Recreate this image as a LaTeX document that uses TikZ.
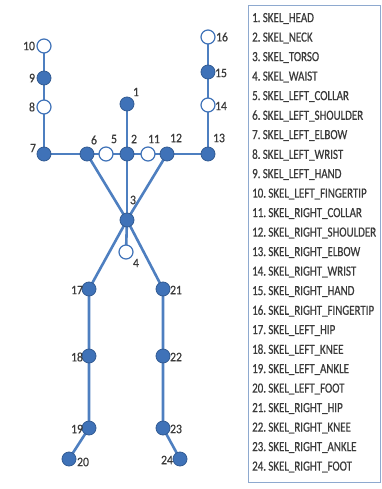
\documentclass[tikz,border=0pt]{standalone}
\usepackage{fontspec}
\setmainfont{Carlito}
\newfontfamily\listfont[FakeStretch=0.78,FakeBold=0.6]{Carlito}
\newfontfamily\numfont[FakeStretch=0.9,FakeBold=0.6]{Carlito}
\definecolor{jblue}{HTML}{3F72B8}
\definecolor{jedge}{HTML}{4E7FC0}
\definecolor{jtext}{HTML}{3A3A3A}
\definecolor{jbox}{HTML}{8EA9CF}
\tikzset{
  bone/.style={draw=jedge, line width=2.6pt},
  full/.style={circle, draw=jblue!80!black, line width=0.8pt, fill=jblue, minimum size=14pt, inner sep=0pt},
  hollow/.style={circle, draw=jblue, line width=1.2pt, fill=white, minimum size=14pt, inner sep=0pt},
  num/.style={text=jtext, font=\numfont\fontsize{13}{14}\selectfont, inner sep=0pt},
  item/.style={text=jtext, font=\listfont\fontsize{14}{15}\selectfont, anchor=west, inner sep=0pt},
}
\begin{document}
\begin{tikzpicture}[x=1pt,y=-1pt]
\useasboundingbox (0,0) rectangle (382,489);
% joints
\coordinate (p1) at (127,104);
\coordinate (p2) at (127,154);
\coordinate (p3) at (127,220);
\coordinate (p4) at (126,252);
\coordinate (p5) at (106,154);
\coordinate (p6) at (87,154);
\coordinate (p7) at (44,154);
\coordinate (p8) at (44,107);
\coordinate (p9) at (44,78);
\coordinate (p10) at (44,46);
\coordinate (p11) at (148,154);
\coordinate (p12) at (167,154);
\coordinate (p13) at (208,154);
\coordinate (p14) at (208,105);
\coordinate (p15) at (208,72);
\coordinate (p16) at (208,37);
\coordinate (p17) at (89,289);
\coordinate (p18) at (89,356);
\coordinate (p19) at (89,428);
\coordinate (p20) at (69,459);
\coordinate (p21) at (163,289);
\coordinate (p22) at (163,356);
\coordinate (p23) at (163,428);
\coordinate (p24) at (180,459);
% bones
\draw[bone] (p10) -- (p9) -- (p8) -- (p7) -- (p13) -- (p14) -- (p15) -- (p16);
\draw[bone] (p1) -- (p2) -- (p3);
\draw[bone] (p6) -- (p3) -- (p12);
\draw[bone] (p3) -- (p4);
\draw[bone] (p20) -- (p19) -- (p18) -- (p17) -- (p3) -- (p21) -- (p22) -- (p23) -- (p24);
% nodes
\foreach \i in {1,2,3,6,7,9,12,13,15,17,18,19,20,21,22,23,24}
  \node[full] (n\i) at (p\i) {};
\foreach \i in {4,5,8,10,11,14,16}
  \node[hollow] (n\i) at (p\i) {};
% number labels
\node[num] (t1) at (136,92) {1};
\node[num] (t2) at (134,139) {2};
\node[num] (t3) at (133,200) {3};
\node[num] (t4) at (136,263) {4};
\node[num] (t5) at (114,139) {5};
\node[num] (t6) at (94,140) {6};
\node[num] (t7) at (33,148) {7};
\node[num] (t8) at (32,107) {8};
\node[num] (t9) at (32,78) {9};
\node[num] (t10) at (29,46) {10};
\node[num] (t11) at (154,139) {11};
\node[num] (t12) at (176,138) {12};
\node[num] (t13) at (219,138) {13};
\node[num] (t14) at (221,106) {14};
\node[num] (t15) at (221,73) {15};
\node[num] (t16) at (222,37) {16};
\node[num] (t17) at (77,290) {17};
\node[num] (t18) at (77,357) {18};
\node[num] (t19) at (77,429) {19};
\node[num] (t20) at (83,462) {20};
\node[num] (t21) at (176,290) {21};
\node[num] (t22) at (176,357) {22};
\node[num] (t23) at (176,429) {23};
\node[num] (t24) at (167,460) {24};
% legend box
\draw[jbox, line width=1pt] (248,6) rectangle (380,482);
\foreach \t [count=\i] in {HEAD,NECK,TORSO,WAIST,LEFT\_COLLAR,LEFT\_SHOULDER,LEFT\_ELBOW,LEFT\_WRIST,LEFT\_HAND,LEFT\_FINGERTIP,RIGHT\_COLLAR,RIGHT\_SHOULDER,RIGHT\_ELBOW,RIGHT\_WRIST,RIGHT\_HAND,RIGHT\_FINGERTIP,LEFT\_HIP,LEFT\_KNEE,LEFT\_ANKLE,LEFT\_FOOT,RIGHT\_HIP,RIGHT\_KNEE,RIGHT\_ANKLE,RIGHT\_FOOT}
  \node[item] (l\i) at (252,{18.5+(\i-1)*19.5}) {\i.\,SKEL\_\t};
\end{tikzpicture}
\end{document}
